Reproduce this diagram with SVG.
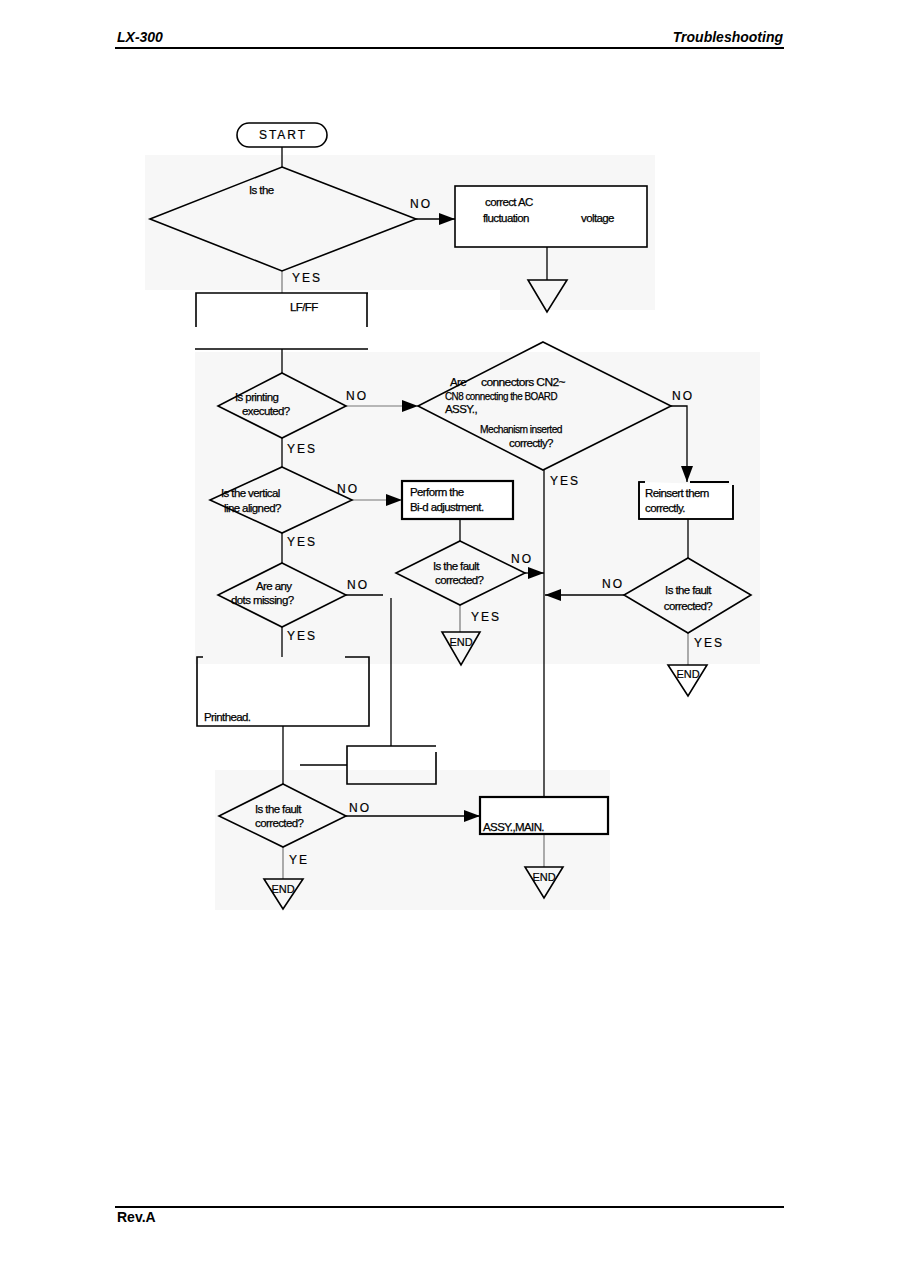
<svg xmlns="http://www.w3.org/2000/svg" width="897" height="1263" viewBox="0 0 897 1263">
<style>
.bg{fill:#f7f7f7;stroke:none}
.ln{stroke:#000;stroke-width:1.3;fill:none}
.gl{stroke:#777;stroke-width:1.2;fill:none}
.sh{stroke:#000;stroke-width:1.6;fill:none}
.bx{stroke:#000;stroke-width:1.6;fill:#fff}
.bx2{stroke:#000;stroke-width:2.2;fill:#fff}
.t{font-family:"Liberation Sans",Arial,sans-serif;font-size:11.5px;letter-spacing:-0.6px;fill:#000;stroke:#000;stroke-width:0.25}
.lb{font-family:"Liberation Sans",Arial,sans-serif;font-size:12px;letter-spacing:2px;fill:#000;stroke:#000;stroke-width:0.2}
.e{font-family:"Liberation Sans",Arial,sans-serif;font-size:11px;text-anchor:middle;fill:#000;stroke:#000;stroke-width:0.2}
.hd{font-family:"Liberation Sans",Arial,sans-serif;font-size:14px;font-weight:bold;font-style:italic;fill:#000}
.ft{font-family:"Liberation Sans",Arial,sans-serif;font-size:14px;font-weight:bold;fill:#000}
</style>
<defs>
<marker id="ah" markerUnits="userSpaceOnUse" markerWidth="16" markerHeight="12" viewBox="0 0 16 12" refX="16" refY="6" orient="auto">
<path d="M0,0 L16,6 L0,12 z" fill="#000"/>
</marker>
</defs>
<rect width="897" height="1263" fill="#fff"/>
<g id="background">
<rect class="bg" x="145" y="155" width="510" height="135"/>
<rect class="bg" x="500" y="250" width="155" height="60"/>
<rect class="bg" x="195" y="352" width="565" height="312"/>
<rect class="bg" x="215" y="770" width="395" height="140"/>
</g>
<g id="page">
<text class="hd" x="117" y="42">LX-300</text>
<text class="hd" x="783" y="42" text-anchor="end">Troubleshooting</text>
<line x1="115" y1="48" x2="784" y2="48" stroke="#000" stroke-width="2.2"/>
<line x1="115" y1="1207" x2="784" y2="1207" stroke="#000" stroke-width="2.2"/>
<text class="ft" x="117" y="1222">Rev.A</text>
</g>
<g id="connectors">
<line class="ln" x1="282" y1="147" x2="282" y2="167"/>
<line class="ln" x1="416" y1="219" x2="455" y2="219" marker-end="url(#ah)"/>
<line class="ln" x1="547" y1="247" x2="547" y2="280"/>
<line class="gl" x1="282" y1="271" x2="282" y2="293"/>
<line class="ln" x1="282" y1="349" x2="282" y2="373"/>
<line class="gl" x1="346" y1="406" x2="418" y2="406" marker-end="url(#ah)"/>
<line class="ln" x1="282" y1="438" x2="282" y2="467"/>
<line class="gl" x1="351" y1="500" x2="402" y2="500" marker-end="url(#ah)"/>
<line class="ln" x1="460" y1="519" x2="460" y2="541"/>
<line class="ln" x1="525" y1="573" x2="544" y2="573" marker-end="url(#ah)"/>
<line class="gl" x1="460" y1="605" x2="460" y2="632"/>
<line class="ln" x1="282" y1="533" x2="282" y2="563"/>
<polyline class="ln" points="346,595 383,595"/>
<line class="ln" x1="391" y1="598" x2="391" y2="746"/>
<line class="ln" x1="282" y1="627" x2="282" y2="657"/>
<line class="ln" x1="283" y1="726" x2="283" y2="784" stroke-width="2"/>
<line class="ln" x1="300" y1="765" x2="347" y2="765" stroke-width="2"/>
<line class="ln" x1="346" y1="816" x2="480" y2="816" marker-end="url(#ah)"/>
<line class="gl" x1="283" y1="847" x2="283" y2="879"/>
<line class="ln" x1="544" y1="470" x2="544" y2="797"/>
<line class="ln" x1="624" y1="595" x2="545" y2="595" marker-end="url(#ah)"/>
<polyline class="ln" points="671,406 687,406 687,482" marker-end="url(#ah)"/>
<line class="ln" x1="688" y1="519" x2="688" y2="558"/>
<line class="gl" x1="688" y1="633" x2="688" y2="665"/>
<line class="gl" x1="544" y1="834" x2="544" y2="867"/>
</g>
<g id="start">
<rect class="bx" x="237" y="123" width="90" height="24" rx="12"/>
<text class="lb" x="283" y="139" text-anchor="middle" letter-spacing="1">START</text>
</g>
<g id="d1">
<polygon class="sh" points="282,167 416,219 282,271 150,219"/>
<text class="t" x="249" y="194">Is the</text>
<text class="lb" x="410" y="208">NO</text>
<text class="lb" x="292" y="282">YES</text>
</g>
<g id="acbox">
<rect class="bx" x="455" y="186" width="192" height="61"/>
<text class="t" x="485" y="206">correct AC</text>
<text class="t" x="483" y="222">fluctuation</text>
<text class="t" x="581" y="222">voltage</text>
</g>
<g id="tri1">
<polygon class="sh" points="528,280 567,280 547,312" fill="#fff"/>
</g>
<g id="lfff">
<path class="sh" d="M196,327 V293 H368 M367,293 V327 M195,349 H368" stroke-width="2"/>
<text class="t" x="290" y="311" letter-spacing="0">LF/FF</text>
</g>
<g id="d2">
<polygon class="sh" points="282,373 346,406 282,438 218,406"/>
<text class="t" x="235" y="401">Is printing</text>
<text class="t" x="242" y="415">executed?</text>
<text class="lb" x="346" y="400">NO</text>
<text class="lb" x="287" y="453">YES</text>
</g>
<g id="dbig">
<polygon class="sh" points="543,342 671,406 543,470 418,406"/>
<text class="t" x="450" y="386">Are</text>
<text class="t" x="481" y="386" textLength="84" lengthAdjust="spacingAndGlyphs">connectors CN2~</text>
<text class="t" x="445" y="400" textLength="112" lengthAdjust="spacingAndGlyphs">CN8 connecting the BOARD</text>
<text class="t" x="445" y="413">ASSY.,</text>
<text class="t" x="480" y="433" textLength="82" lengthAdjust="spacingAndGlyphs">Mechanism inserted</text>
<text class="t" x="509" y="447">correctly?</text>
<text class="lb" x="672" y="400">NO</text>
<text class="lb" x="550" y="485">YES</text>
</g>
<g id="reinsert">
<path class="bx" d="M645,482 H639 V519 H733 V485" stroke="none"/>
<path class="sh" d="M645,482 H639 V519 H733 V485" stroke-width="2"/>
<line x1="690" y1="482" x2="729" y2="482" stroke="#000" stroke-width="2.2"/>
<text class="t" x="645" y="497">Reinsert them</text>
<text class="t" x="645" y="512">correctly.</text>
</g>
<g id="d3">
<polygon class="sh" points="282,467 352,500 282,533 210,500"/>
<text class="t" x="221" y="497">Is the vertical</text>
<text class="t" x="224" y="512">line aligned?</text>
<text class="lb" x="337" y="493">NO</text>
<text class="lb" x="287" y="546">YES</text>
</g>
<g id="bidbox">
<rect class="bx2" x="402" y="481" width="111" height="38"/>
<text class="t" x="410" y="496">Perform the</text>
<text class="t" x="410" y="511">Bi-d adjustment.</text>
</g>
<g id="d4">
<polygon class="sh" points="460,541 525,573 460,605 396,573"/>
<text class="t" x="433" y="570">Is the fault</text>
<text class="t" x="435" y="584">corrected?</text>
<text class="lb" x="511" y="563">NO</text>
<text class="lb" x="471" y="621">YES</text>
</g>
<g id="end1">
<polygon class="sh" points="442,632 480,632 461,665" fill="#fff"/>
<text class="e" x="461" y="646">END</text>
</g>
<g id="d5">
<polygon class="sh" points="282,563 346,595 282,627 218,595"/>
<text class="t" x="256" y="590">Are any</text>
<text class="t" x="231" y="604">dots missing?</text>
<text class="lb" x="347" y="589">NO</text>
<text class="lb" x="287" y="640">YES</text>
</g>
<g id="d7">
<polygon class="sh" points="688,558 751,595 688,633 624,595"/>
<text class="t" x="688" y="594" text-anchor="middle" letter-spacing="0">Is the fault</text>
<text class="t" x="688" y="610" text-anchor="middle" letter-spacing="0">corrected?</text>
<text class="lb" x="602" y="588">NO</text>
<text class="lb" x="694" y="647">YES</text>
</g>
<g id="end4">
<polygon class="sh" points="668,665 707,665 688,696" fill="#fff"/>
<text class="e" x="688" y="678">END</text>
</g>
<g id="printhead">
<path class="sh" d="M203,657 H197 V726 H369 V657 H345" stroke-width="2.2"/>
<text class="t" x="204" y="721" letter-spacing="0.8">Printhead.</text>
</g>
<g id="smallbox">
<path class="sh" d="M436,752 V784 H347 V746 H436" stroke-width="2"/>
</g>
<g id="d6">
<polygon class="sh" points="283,784 346,816 283,847 219,816"/>
<text class="t" x="255" y="813">Is the fault</text>
<text class="t" x="255" y="827">corrected?</text>
<text class="lb" x="349" y="812">NO</text>
<text class="lb" x="289" y="864">YE</text>
</g>
<g id="end2">
<polygon class="sh" points="264,879 303,879 283,909" fill="#fff"/>
<text class="e" x="283" y="893">END</text>
</g>
<g id="assybox">
<rect class="bx2" x="480" y="797" width="128" height="37"/>
<text class="t" x="483" y="831" letter-spacing="0.8" font-size="12">ASSY.,MAIN.</text>
</g>
<g id="end3">
<polygon class="sh" points="525,867 563,867 544,898" fill="#fff"/>
<text class="e" x="544" y="881">END</text>
</g>
</svg>
